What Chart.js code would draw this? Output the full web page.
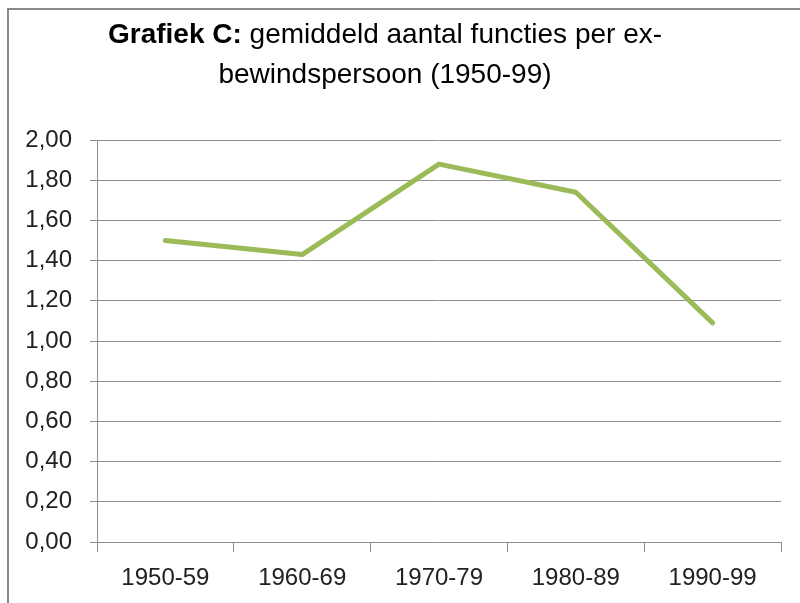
<!DOCTYPE html>
<html>
  <head>
    <title>Grafiek C</title>
    <script src="https://cdn.jsdelivr.net/npm/chart.js"></script>
    <style>
      body { margin: 0; background: #fff; }
    </style>
  </head>
  <body>
    <canvas id="myChart" width="800" height="603"></canvas>

    <script>
      const periodes = ["1950-59", "1960-69", "1970-79", "1980-89", "1990-99"];
      const gemiddeldAantal = [1.5, 1.43, 1.88, 1.74, 1.09];
      const yTickLabels = ["0,00", "0,20", "0,40", "0,60", "0,80", "1,00", "1,20", "1,40", "1,60", "1,80", "2,00"];
      const titelVet = "Grafiek C:";
      const titelRegel1 = " gemiddeld aantal functies per ex-";
      const titelRegel2 = "bewindspersoon (1950-99)";

      const fontFamily = "'Liberation Sans', Arial, sans-serif";
      const gridColor = "#8e8e8e";

      // titel met vet + normaal deel, en de grijze rand
      const titelPlugin = {
        id: "titelPlugin",
        afterDraw(chart) {
          const ctx = chart.ctx;
          ctx.save();
          ctx.strokeStyle = "#8a8a8a";
          ctx.lineWidth = 2;
          ctx.strokeRect(8, 9, 900, 700);

          ctx.fillStyle = "#000";
          ctx.textBaseline = "alphabetic";
          ctx.textAlign = "left";
          const center = 385;
          ctx.font = "bold 28px " + fontFamily;
          const wVet = ctx.measureText(titelVet).width;
          ctx.font = "28px " + fontFamily;
          const wRest = ctx.measureText(titelRegel1).width;
          let x = center - (wVet + wRest) / 2;
          ctx.font = "bold 28px " + fontFamily;
          ctx.fillText(titelVet, x, 43);
          ctx.font = "28px " + fontFamily;
          ctx.fillText(titelRegel1, x + wVet, 43);
          ctx.textAlign = "center";
          ctx.fillText(titelRegel2, center, 83);
          ctx.restore();
        },
      };

      const ctx = document.getElementById("myChart").getContext("2d");
      const myChart = new Chart(ctx, {
        type: "line",
        data: {
          labels: periodes,
          datasets: [
            {
              label: "Gemiddeld aantal functies",
              data: gemiddeldAantal,
              borderColor: "#9BBB59",
              borderWidth: 5,
              borderCapStyle: "round",
              borderJoinStyle: "round",
              pointRadius: 0,
              tension: 0,
              fill: false,
            },
          ],
        },
        options: {
          responsive: false,
          animation: false,
          devicePixelRatio: 1,
          layout: { padding: { left: 7, right: 19, top: 140, bottom: 0 } },
          plugins: {
            legend: { display: false },
            title: { display: false },
            tooltip: { enabled: false },
          },
          scales: {
            x: {
              offset: true,
              grid: {
                offset: true,
                drawOnChartArea: false,
                drawTicks: true,
                tickLength: 10,
                color: gridColor,
              },
              border: { color: gridColor, width: 1 },
              ticks: {
                color: "#222",
                font: { family: fontFamily, size: 24 },
                padding: 12,
                maxRotation: 0,
              },
              afterFit(scale) {
                scale.height = 61;
              },
            },
            y: {
              min: 0,
              max: 2,
              grid: {
                color: gridColor,
                tickLength: 7,
              },
              border: { color: gridColor, width: 1 },
              ticks: {
                stepSize: 0.2,
                color: "#222",
                font: { family: fontFamily, size: 24 },
                padding: 18,
                callback: (value, index) => yTickLabels[index],
              },
              afterFit(scale) {
                scale.width = 90;
              },
            },
          },
        },
        plugins: [titelPlugin],
      });
    </script>
  </body>
</html>
